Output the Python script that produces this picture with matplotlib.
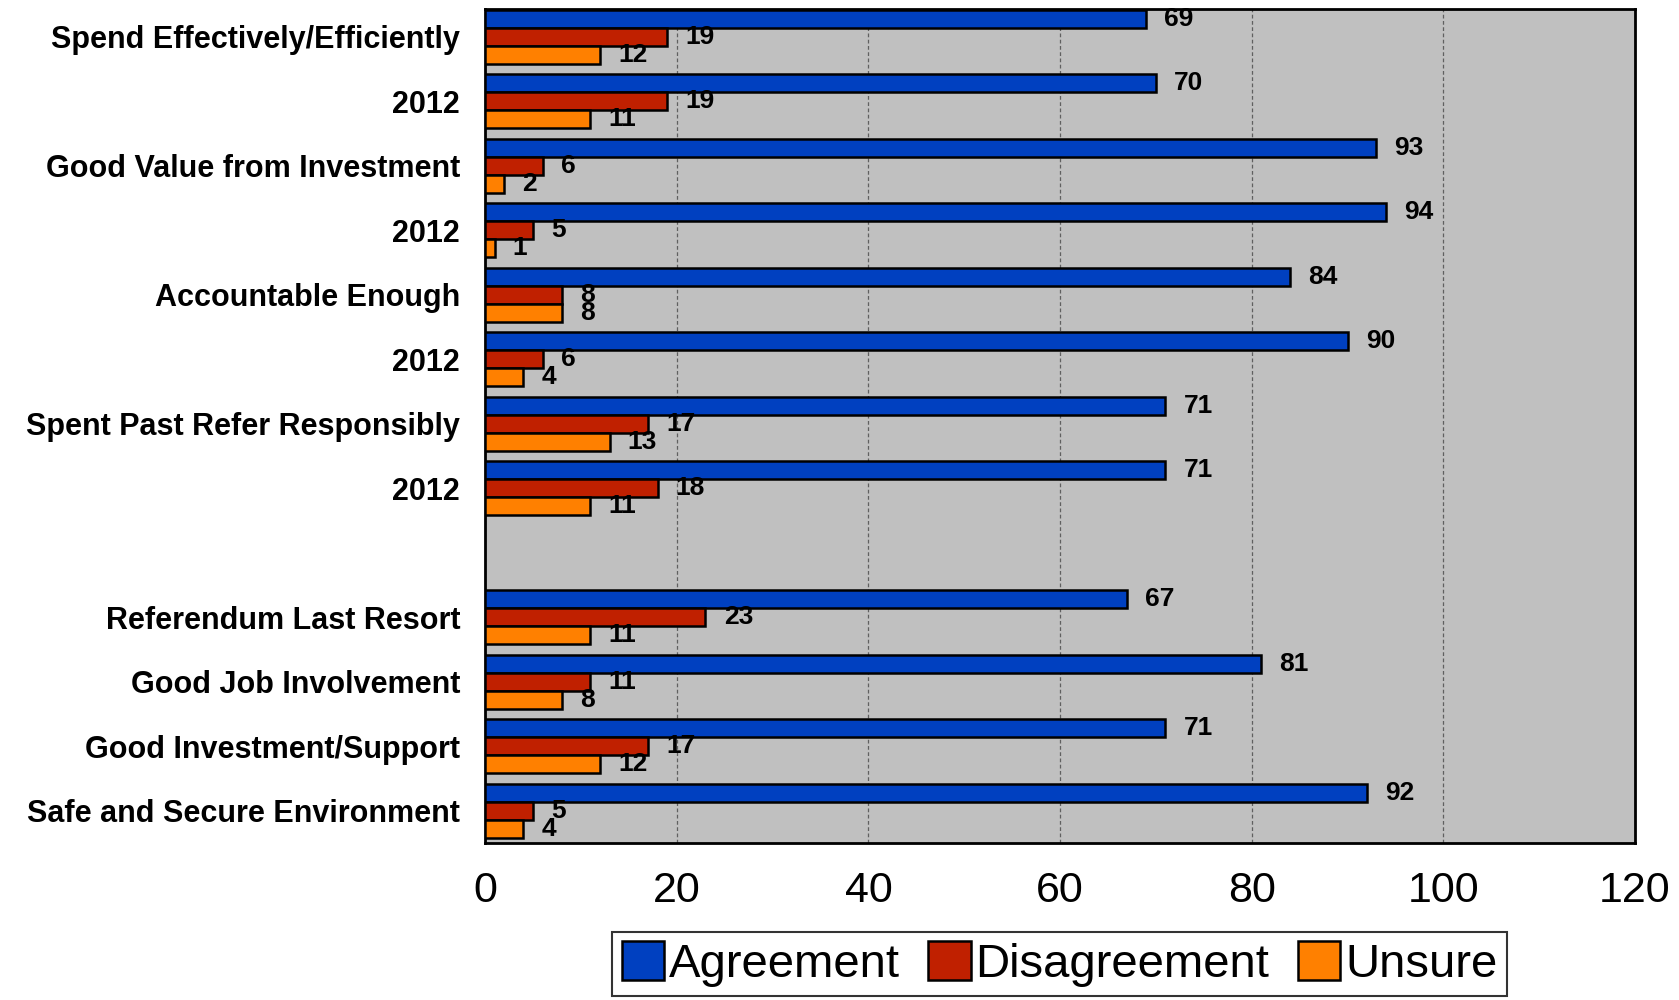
import numpy as np
import matplotlib.pyplot as plt

plt.rcParams['font.family'] = ['Liberation Sans', 'DejaVu Sans']

categories = ["Spend Effectively/Efficiently", "2012",
              "Good Value from Investment", "2012",
              "Accountable Enough", "2012",
              "Spent Past Refer Responsibly", "2012",
              "",
              "Referendum Last Resort", "Good Job Involvement",
              "Good Investment/Support", "Safe and Secure Environment"]

agreement = [69, 70, 93, 94, 84, 90, 71, 71, None, 67, 81, 71, 92]
disagreement = [19, 19, 6, 5, 8, 6, 17, 18, None, 23, 11, 17, 5]
unsure = [12, 11, 2, 1, 8, 4, 13, 11, None, 11, 8, 12, 4]

series_names = ["Agreement", "Disagreement", "Unsure"]
colors = ["#0040c0", "#c02000", "#ff8000"]

fig = plt.figure(figsize=(16.79, 10), dpi=100)
ax = fig.add_axes([0.2889, 0.157, 0.6849, 0.834])
ax.set_facecolor("#c0c0c0")

y = np.arange(len(categories))
h = 0.278
offsets = [-h, 0, h]

for vals, name, col, off in zip([agreement, disagreement, unsure],
                                series_names, colors, offsets):
    idx = [i for i, v in enumerate(vals) if v is not None]
    v = [vals[i] for i in idx]
    ax.barh(y[idx] + off, v, height=h, color=col, edgecolor="black",
            linewidth=1.8, label=name, zorder=3)
    for i, val in zip(idx, v):
        ax.text(val + 1.9, y[i] + off, str(val), va="center", ha="left",
                fontsize=19, fontweight="bold", zorder=4)

ax.set_xlim(0, 120)
ax.set_ylim(12.5, -0.43)
ax.set_xticks(range(0, 121, 20))
ax.set_yticks(y)
ax.set_yticklabels(categories, fontsize=22, fontweight="bold")
ax.tick_params(axis="y", length=0, pad=18)
ax.tick_params(axis="x", length=0, pad=20, labelsize=31)
ax.xaxis.grid(True, linestyle=(0, (3, 2)), color="#606060", linewidth=0.9, zorder=0)
ax.set_axisbelow(True)
for s in ax.spines.values():
    s.set_linewidth(2)
    s.set_color("black")

leg = fig.legend(loc="center", bbox_to_anchor=(0.631, 0.036), ncol=3,
                 fontsize=34, frameon=True, fancybox=False, edgecolor="black",
                 handlelength=0.9, handleheight=0.9, handletextpad=0.1,
                 columnspacing=0.6, borderpad=0.2, borderaxespad=0)
leg.get_frame().set_linewidth(1.5)

fig.savefig("out.png", dpi=100, facecolor="white")
